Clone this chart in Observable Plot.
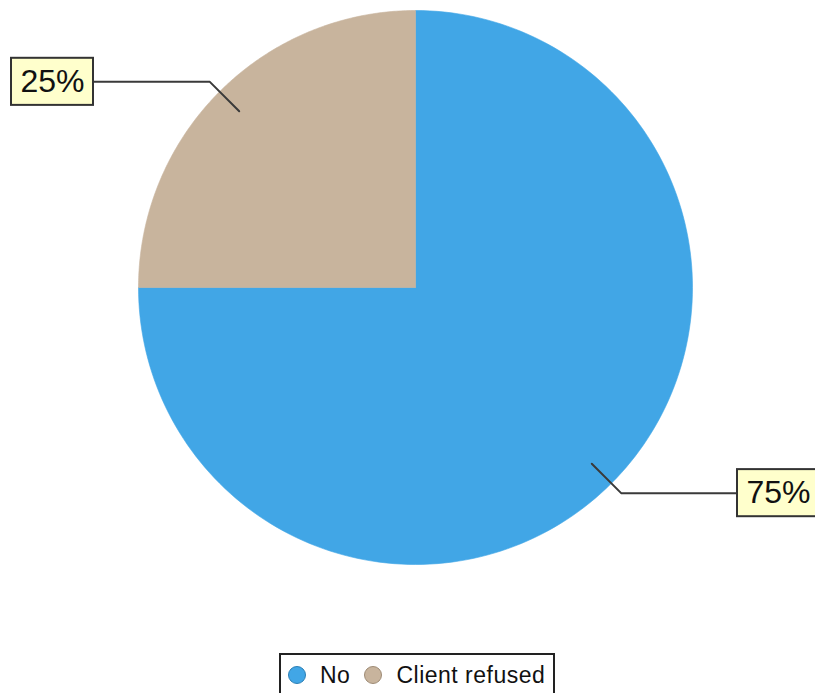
<!DOCTYPE html>
<html>
<head>
<meta charset="utf-8">
<script src="https://cdn.jsdelivr.net/npm/d3@7"></script>
<script src="https://cdn.jsdelivr.net/npm/@observablehq/plot@0.6"></script>
<style>
  html, body { margin: 0; padding: 0; background: #fff; }
  #chart svg { display: block; }
  .legend {
    margin-left: 279px; margin-top: 13px;
    width: 276px; height: 44px; box-sizing: border-box;
    border: 2px solid #222; display: flex; align-items: center;
    padding-left: 7px; white-space: nowrap; overflow: hidden;
    font-family: "Liberation Sans", Arial, sans-serif; font-size: 23px; color: #111;
    letter-spacing: 0.5px;
  }
  .legend .sw { width: 16px; height: 16px; border-radius: 50%; margin-right: 14px; flex: none; }
  .legend .lab { margin-right: 14px; flex: none; }
</style>
</head>
<body>
<div id="chart"></div>
<script>
const categories = ["No", "Client refused"];
const values = [75, 25];
const labels = ["75%", "25%"];
const colors = ["#41a6e6", "#c8b49d"];
const borderColors = ["#2b7fb5", "#9e8b75"];

const rows = categories.map((c, i) => ({category: c, value: values[i], label: labels[i]}));
const arcs = d3.pie().sort(null).value(d => d.value)(rows);

// slice polygons (angles clockwise from 12 o'clock)
const poly = [];
for (const a of arcs) {
  const n = 180;
  poly.push({category: a.data.category, x: 0, y: 0});
  for (let k = 0; k <= n; k++) {
    const t = a.startAngle + (a.endAngle - a.startAngle) * k / n;
    poly.push({category: a.data.category, x: Math.sin(t), y: Math.cos(t)});
  }
  poly.push({category: a.data.category, x: 0, y: 0});
}

// leader lines and label boxes
const leaders = [];
const boxes = [];
const boxW = 0.296, boxH = 0.085, run = 0.42;
for (const a of arcs) {
  const m = (a.startAngle + a.endAngle) / 2;
  const s = Math.sin(m), c = Math.cos(m);
  const sign = s >= 0 ? 1 : -1;
  const ex = 1.05 * s, ey = 1.05 * c;
  const endX = ex + sign * run;
  leaders.push({key: a.data.category, x: 0.9 * s, y: 0.9 * c});
  leaders.push({key: a.data.category, x: ex, y: ey});
  leaders.push({key: a.data.category, x: endX, y: ey});
  const bx1 = sign > 0 ? endX : endX - boxW;
  boxes.push({label: a.data.label, x1: bx1, x2: bx1 + boxW, y1: ey - boxH, y2: ey + boxH, cx: bx1 + boxW / 2, cy: ey});
}

const chart = Plot.plot({
  width: 815,
  height: 640,
  margin: 0,
  x: {domain: [-1, 1], range: [138, 692], axis: null},
  y: {domain: [-1, 1], range: [564, 10], axis: null},
  color: {domain: categories, range: colors},
  style: {background: "white"},
  marks: [
    Plot.line(poly, {x: "x", y: "y", z: "category", fill: "category", stroke: "category", strokeWidth: 0.6, curve: "linear"}),
    Plot.line(leaders, {x: "x", y: "y", z: "key", stroke: "#3a3a3a", strokeWidth: 2, curve: "linear"}),
    Plot.rect(boxes, {x1: "x1", x2: "x2", y1: "y1", y2: "y2", fill: "#ffffcc", stroke: "#333", strokeWidth: 2}),
    Plot.text(boxes, {x: "cx", y: "cy", text: "label", fontSize: 32, fill: "#111", fontFamily: "Liberation Sans, Arial, sans-serif", letterSpacing: "1px"})
  ]
});
document.getElementById("chart").appendChild(chart);

const legend = document.createElement("div");
legend.className = "legend";
categories.forEach((c, i) => {
  const sw = document.createElement("span");
  sw.className = "sw";
  sw.style.background = colors[i];
  sw.style.border = "1.5px solid " + borderColors[i];
  const lab = document.createElement("span");
  lab.className = "lab";
  lab.textContent = c;
  legend.appendChild(sw);
  legend.appendChild(lab);
});
document.body.appendChild(legend);
</script>
</body>
</html>
